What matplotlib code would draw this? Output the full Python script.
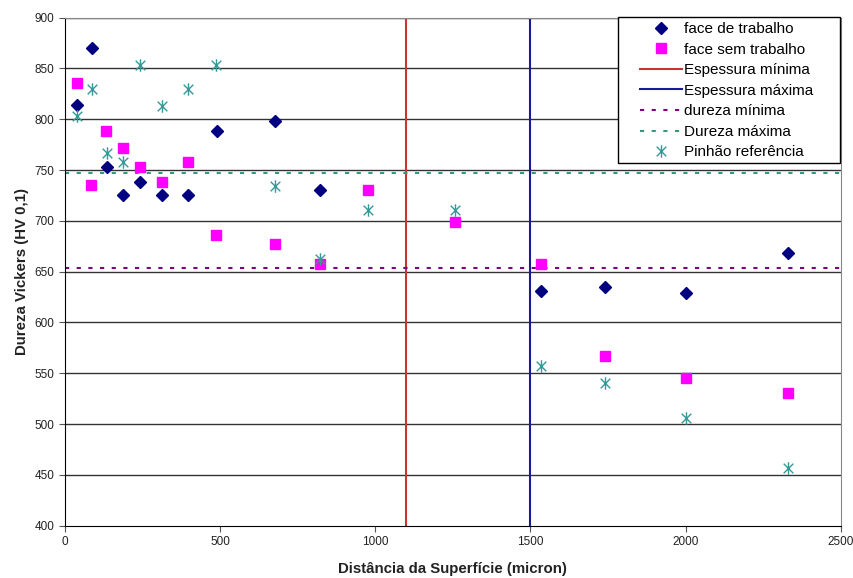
import matplotlib
matplotlib.use('Agg')
import matplotlib.pyplot as plt
from matplotlib.path import Path
from matplotlib.patches import Rectangle

plt.rcParams['font.family'] = ['Liberation Sans', 'DejaVu Sans']

# data
dist_trab = [40, 86, 134, 188, 242, 314, 398, 489, 677, 823, 1535, 1742, 2000, 2331]
hv_trab = [814, 870, 753, 725, 738, 725, 725, 788, 798, 730, 631, 635, 629, 668]

dist_sem = [40, 85, 131, 187, 242, 314, 397, 487, 677, 823, 978, 1256, 1535, 1742, 2000, 2331]
hv_sem = [836, 735, 788, 772, 753, 738, 758, 686, 677, 658, 730, 699, 658, 567, 545, 531]

dist_ref = [40, 86, 135, 187, 242, 314, 398, 487, 677, 823, 978, 1256, 1535, 1742, 2000, 2331]
hv_ref = [803, 830, 767, 758, 853, 813, 830, 853, 734, 662, 711, 711, 557, 540, 506, 457]

esp_min = 1100
esp_max = 1500
dureza_min = 654
dureza_max = 747

# asterisk marker like the spreadsheet one (x plus vertical bar)
star = Path([(-1, -1), (1, 1), (-1, 1), (1, -1), (0, -1.3), (0, 1.3)],
            [Path.MOVETO, Path.LINETO, Path.MOVETO, Path.LINETO, Path.MOVETO, Path.LINETO])

fig = plt.figure(figsize=(8.54, 5.78), dpi=100)
ax = fig.add_axes([0.0761, 0.0905, 0.9083, 0.879])

for y in range(450, 901, 50):
    ax.axhline(y, color='#333333', lw=1.0, zorder=0)

ax.plot(dist_trab, hv_trab, linestyle='none', marker='D', markersize=6.5,
        color='#000080', label='face de trabalho', zorder=4)
ax.plot(dist_sem, hv_sem, linestyle='none', marker='s', markersize=6.8,
        color='#FF00FF', label='face sem trabalho', zorder=4)
ax.axvline(esp_min, color='#CC3333', lw=1.5, label='Espessura mínima', zorder=2)
ax.axvline(esp_max, color='#1A1A99', lw=1.5, label='Espessura máxima', zorder=2)
ax.axhline(dureza_min, color='#800080', lw=1.5, ls=(0, (2, 3.6)), label='dureza mínima', zorder=2)
ax.axhline(dureza_max, color='#339980', lw=1.5, ls=(0, (2, 3.6)), label='Dureza máxima', zorder=2)
ax.plot(dist_ref, hv_ref, linestyle='none', marker=star, markersize=9,
        markeredgewidth=1.0, color='#339999', label='Pinhão referência', zorder=4)

ax.set_xlim(0, 2500)
ax.set_ylim(400, 900)
ax.set_xticks(range(0, 2501, 500))
ax.set_yticks(range(400, 901, 50))
ax.tick_params(labelsize=8.5, length=4, color='#555555', labelcolor='#222222')

for side in ['top', 'right']:
    ax.spines[side].set_color('#888888')
for side in ['left', 'bottom']:
    ax.spines[side].set_color('black')

ax.set_xlabel('Distância da Superfície (micron)', fontsize=10.8, fontweight='bold',
              color='#222222', labelpad=10)
ax.set_ylabel('Dureza Vickers (HV 0,1)', fontsize=10.8, fontweight='bold', color='#222222')

# legend box drawn separately so it can have wide side padding
fig.patches.append(Rectangle((618 / 854, 1 - 163 / 578), 222 / 854, 146 / 578,
                             transform=fig.transFigure, facecolor='white',
                             edgecolor='black', lw=1.0, zorder=5))
leg = fig.legend(*ax.get_legend_handles_labels(), loc='upper left',
                 bbox_to_anchor=(640 / 854, 1 - 22 / 578), fontsize=11,
                 frameon=False, handlelength=2.75, handletextpad=0.1,
                 borderpad=0, borderaxespad=0, labelspacing=0.43)
leg.set_zorder(6)

fig.savefig('out.png', dpi=100)
